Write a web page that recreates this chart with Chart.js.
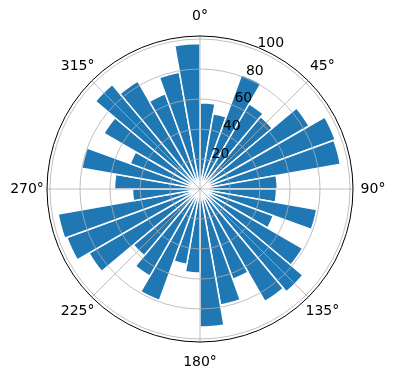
<!DOCTYPE html>
<html>
  <head>
    <script src="https://cdn.jsdelivr.net/npm/chart.js"></script>
    <title>Polar bars</title>
    <style>
      body {
        margin: 0;
        background-color: white;
      }
      .wrap {
        position: relative;
        width: 396px;
        height: 380px;
      }
    </style>
  </head>
  <body>
    <div class="wrap"><canvas id="roseChart"></canvas></div>

    <script>
      // bin start angles, degrees clockwise from north (each bin 10 deg wide)
      const binAngles = [0, 10, 20, 30, 40, 50, 60, 70, 80, 90, 100, 110,
                         120, 130, 140, 150, 160, 170, 180, 190, 200, 210, 220, 230,
                         240, 250, 260, 270, 280, 290, 300, 310, 320, 330, 340, 350];
      const binValues = [57.5, 51, 81, 65.5, 63, 84, 96, 95, 51.5, 51, 79, 52,
                         79, 89.5, 86.5, 64, 78.5, 92, 56, 51, 79, 67, 58, 85.5,
                         94.5, 96, 45, 57, 80, 49.5, 74, 91, 83, 67.5, 79, 97];
      const angleTickLabels = ['0°', '45°', '90°', '135°', '180°', '225°', '270°', '315°'];
      const radialTicks = [20, 40, 60, 80, 100];
      const rMax = 102;

      // spokes, outer spine and text labels (matplotlib style)
      const polarFrame = {
        id: 'polarFrame',
        afterDatasetsDraw(chart) {
          const r = chart.scales.r;
          const ctx = chart.ctx;
          const R = r.getDistanceFromCenterForValue(rMax);
          ctx.save();
          ctx.strokeStyle = '#b0b0b0';
          ctx.lineWidth = 0.8;
          angleTickLabels.forEach((lab, i) => {
            const a = (i * 45 - 90) * Math.PI / 180;
            ctx.beginPath();
            ctx.moveTo(r.xCenter, r.yCenter);
            ctx.lineTo(r.xCenter + R * Math.cos(a), r.yCenter + R * Math.sin(a));
            ctx.stroke();
          });
          ctx.restore();
        },
        afterDraw(chart) {
          const r = chart.scales.r;
          const ctx = chart.ctx;
          const R = r.getDistanceFromCenterForValue(rMax);
          ctx.save();
          ctx.strokeStyle = 'black';
          ctx.lineWidth = 1;
          ctx.beginPath();
          ctx.arc(r.xCenter, r.yCenter, R, 0, 2 * Math.PI);
          ctx.stroke();

          ctx.fillStyle = 'black';
          ctx.font = '14px "DejaVu Sans"';
          ctx.textAlign = 'center';
          ctx.textBaseline = 'middle';
          angleTickLabels.forEach((lab, i) => {
            const a = (i * 45 - 90) * Math.PI / 180;
            const d = R + 20;
            ctx.fillText(lab, r.xCenter + d * Math.cos(a), r.yCenter + d * Math.sin(a));
          });

          ctx.textAlign = 'left';
          ctx.textBaseline = 'bottom';
          const la = (22.5 - 90) * Math.PI / 180;
          radialTicks.forEach(v => {
            const d = r.getDistanceFromCenterForValue(v);
            ctx.fillText(String(v), r.xCenter + d * Math.cos(la), r.yCenter + d * Math.sin(la));
          });
          ctx.restore();
        }
      };

      new Chart(document.getElementById('roseChart'), {
        type: 'polarArea',
        data: {
          labels: binAngles.map(a => a + '°'),
          datasets: [{
            data: binValues,
            backgroundColor: '#1f77b4',
            borderColor: '#ffffff',
            borderWidth: 1.5,
          }],
        },
        options: {
          responsive: true,
          maintainAspectRatio: false,
          animation: false,
          layout: { padding: { left: 5, right: 0, top: 36, bottom: 38 } },
          plugins: {
            legend: { display: false },
            tooltip: { enabled: false },
          },
          scales: {
            r: {
              min: 0,
              max: rMax,
              ticks: { display: false, stepSize: 20, includeBounds: false },
              grid: { circular: true, color: '#b0b0b0', lineWidth: 0.8, z: 1 },
              angleLines: { display: false },
              pointLabels: { display: false },
            },
          },
        },
        plugins: [polarFrame],
      });
    </script>
  </body>
</html>
